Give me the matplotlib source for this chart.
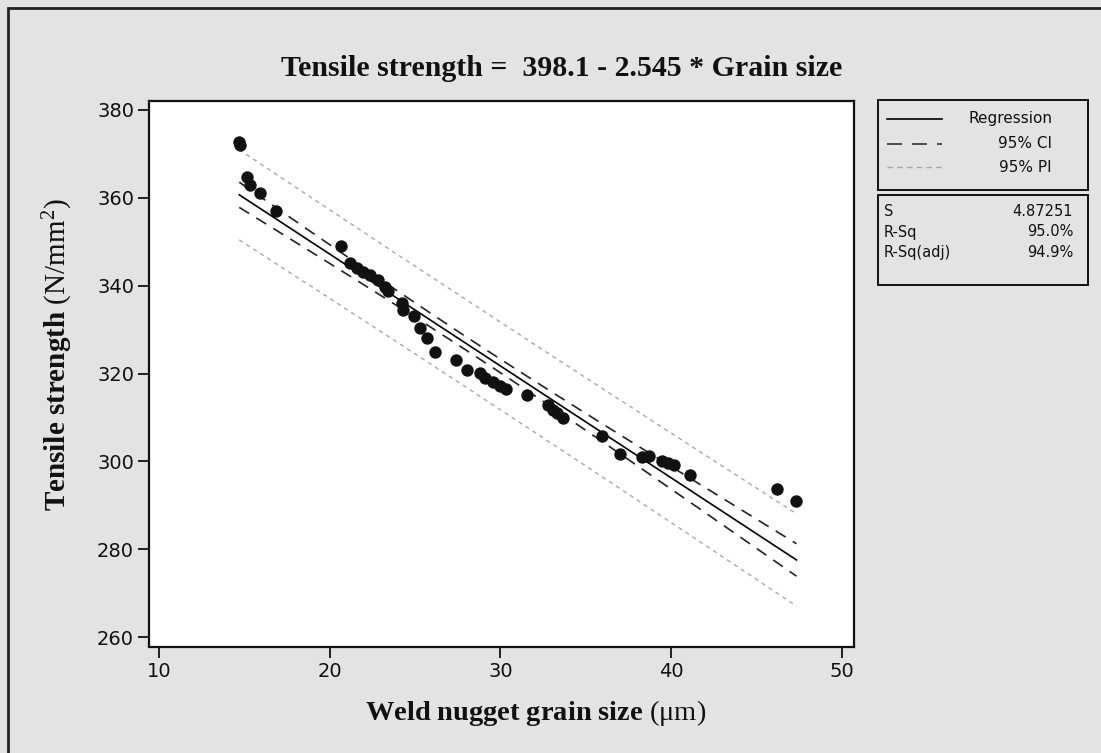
import numpy as np
import matplotlib
matplotlib.use("Agg")
import matplotlib.pyplot as plt
from matplotlib.lines import Line2D
from matplotlib.patches import Rectangle

plt.rcParams['mathtext.fontset'] = 'custom'
plt.rcParams['mathtext.rm'] = 'Liberation Serif'
plt.rcParams['mathtext.bf'] = 'Liberation Serif:bold'
plt.rcParams['mathtext.it'] = 'Liberation Serif:italic'

# ---------------- data ----------------
grain_size = [14.70, 14.74, 15.14, 15.33, 15.92, 16.84, 20.64, 21.21, 21.58, 21.97,
              22.36, 22.85, 23.24, 23.43, 24.22, 24.28, 24.94, 25.29, 25.68, 26.17,
              27.40, 28.03, 28.80, 29.10, 29.58, 29.98, 30.33, 31.58, 32.81, 33.10,
              33.30, 33.69, 35.93, 37.01, 38.30, 38.70, 39.45, 39.84, 40.17, 41.11,
              46.22, 47.35]
tensile = [372.8, 372.1, 364.7, 363.0, 361.1, 356.9, 349.1, 345.1, 344.0, 343.2,
           342.5, 341.3, 339.8, 338.7, 336.0, 334.5, 333.0, 330.4, 328.0, 325.0,
           323.2, 320.8, 320.1, 318.9, 318.2, 317.2, 316.6, 315.1, 312.8, 311.7,
           311.0, 309.8, 305.8, 301.8, 301.0, 301.2, 300.0, 299.6, 299.1, 296.9,
           293.7, 291.0]
intercept = 398.1
slope = -2.545
s_value = 4.87251
t_crit = 2.021
stats_labels = ["S", "R-Sq", "R-Sq(adj)"]
stats_values = ["4.87251", "95.0%", "94.9%"]
legend_labels = ["Regression", "95% CI", "95% PI"]
x_ticks = [10, 20, 30, 40, 50]
y_ticks = [260, 280, 300, 320, 340, 360, 380]

W, H = 1101, 753
BG = "#e3e3e3"

def fx(px):
    return px / W

def fy(py):
    return 1 - py / H

fig = plt.figure(figsize=(W / 100, H / 100), dpi=100, facecolor=BG)

# outer frame (left/top visible)
fig.add_artist(Rectangle((fx(8), fy(760)), fx(1110) - fx(8), fy(8) - fy(760),
                         transform=fig.transFigure, fill=False, edgecolor="#222222",
                         linewidth=2.0))

L, R, T, B = 149.3, 854, 100.7, 646.5
ax = fig.add_axes([fx(L), fy(B), fx(R) - fx(L), fy(T) - fy(B)])
ax.set_facecolor("white")

x = np.array(grain_size)
y = np.array(tensile)
n = len(x)
xbar = x.mean()
sxx = ((x - xbar) ** 2).sum()
xs = np.linspace(x.min(), x.max(), 200)
fit = intercept + slope * xs
ci = t_crit * s_value * np.sqrt(1 / n + (xs - xbar) ** 2 / sxx)
pi = t_crit * s_value * np.sqrt(1 + 1 / n + (xs - xbar) ** 2 / sxx)

ax.plot(xs, fit + pi, color="#a8a8a8", lw=1.0, dashes=(3, 3), zorder=1)
ax.plot(xs, fit - pi, color="#a8a8a8", lw=1.0, dashes=(3, 3), zorder=1)
ax.plot(xs, fit + ci, color="#222222", lw=1.2, dashes=(7, 5), zorder=2)
ax.plot(xs, fit - ci, color="#222222", lw=1.2, dashes=(7, 5), zorder=2)
ax.plot(xs, fit, color="black", lw=1.2, zorder=3)
ax.scatter(x, y, s=80, color="#111111", zorder=4, linewidths=0)

ax.set_xlim(9.43, 50.72)
ax.set_ylim(257.9, 382.1)
ax.set_xticks(x_ticks)
ax.set_yticks(y_ticks)
ax.tick_params(direction="out", length=8, width=1.3, colors="#111111",
               labelsize=14, pad=3)
for lab in ax.get_xticklabels() + ax.get_yticklabels():
    lab.set_fontfamily("DejaVu Sans")
for sp in ax.spines.values():
    sp.set_linewidth(1.6)
    sp.set_color("#111111")

# title and axis labels
fig.text(fx(562), fy(68), "Tensile strength =  398.1 - 2.545 * Grain size",
         ha="center", va="center", fontsize=21.5, fontweight="bold",
         family="Liberation Serif", color="#111111")
fig.text(fx(536), fy(713), "$\\mathbf{Weld\\ nugget\\ grain\\ size}$ (\u03bcm)",
         ha="center", va="center", fontsize=20.5, family="Liberation Serif",
         color="#111111")
fig.text(fx(58), fy(355), "$\\mathbf{Tensile\\ strength}$ (N/mm$^{2}$)",
         ha="center", va="center", fontsize=21, rotation=90,
         family="Liberation Serif", color="#111111")

# legend box
fig.add_artist(Rectangle((fx(878), fy(190)), fx(1088) - fx(878), fy(100) - fy(190),
                         transform=fig.transFigure, fill=False, edgecolor="#111111",
                         linewidth=1.4))
rows = [119, 144, 167]
styles = [dict(color="black", lw=1.2),
          dict(color="#333333", lw=1.2, dashes=(9, 6)),
          dict(color="#a8a8a8", lw=1.0, dashes=(4, 3))]
for ry, lab, st in zip(rows, legend_labels, styles):
    fig.add_artist(Line2D([fx(887), fx(942)], [fy(ry), fy(ry)],
                          transform=fig.transFigure, **st))
    fig.text(fx(1052), fy(ry), lab, ha="right", va="center", fontsize=11,
             family="DejaVu Sans", color="#111111")

# stats box
fig.add_artist(Rectangle((fx(878), fy(285)), fx(1088) - fx(878), fy(195) - fy(285),
                         transform=fig.transFigure, fill=False, edgecolor="#111111",
                         linewidth=1.4))
srows = [211, 232, 253]
for ry, lab, val in zip(srows, stats_labels, stats_values):
    fig.text(fx(884), fy(ry), lab, ha="left", va="center", fontsize=10.5,
             family="DejaVu Sans", color="#111111")
    fig.text(fx(1073), fy(ry), val, ha="right", va="center", fontsize=10.5,
             family="DejaVu Sans", color="#111111")

fig.savefig("out.png", dpi=100, facecolor=BG)
